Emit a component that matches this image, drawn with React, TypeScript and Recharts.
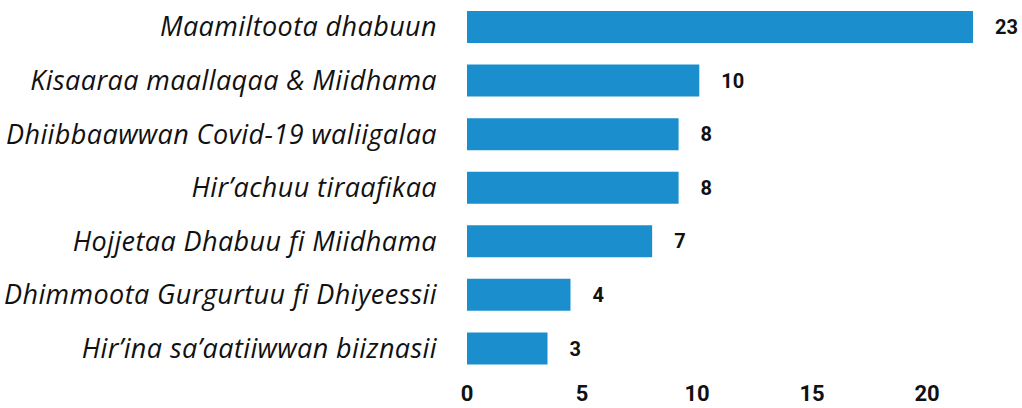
import { BarChart, Bar, XAxis, YAxis, LabelList } from "recharts";

const categories = [
  "Maamiltoota dhabuun",
  "Kisaaraa maallaqaa & Miidhama",
  "Dhiibbaawwan Covid-19 waliigalaa",
  "Hir’achuu tiraafikaa",
  "Hojjetaa Dhabuu fi Miidhama",
  "Dhimmoota Gurgurtuu fi Dhiyeessii",
  "Hir’ina sa’aatiiwwan biiznasii",
];

// bar lengths as drawn against the axis
const barValues = [22, 10.1, 9.2, 9.2, 8.05, 4.5, 3.5];

// numbers printed next to the bars
const valueLabels = [23, 10, 8, 8, 7, 4, 3];

const xTicks = [0, 5, 10, 15, 20];

const data = categories.map((name, i) => ({
  name,
  value: barValues[i],
  label: valueLabels[i],
}));

export default function App() {
  return (
    <div style={{ position: "absolute", top: 0, left: 0, background: "#fff" }}>
      <BarChart
        width={1022}
        height={408}
        data={data}
        layout="vertical"
        margin={{ top: 0, right: 49, bottom: 0, left: 0 }}
        barCategoryGap={0}
      >
        <XAxis
          type="number"
          domain={[0, 22]}
          ticks={xTicks}
          axisLine={false}
          tickLine={false}
          tickSize={0}
          tickMargin={10}
          height={33}
          allowDataOverflow
          tick={{
            fill: "#111",
            fontSize: 22,
            fontWeight: 700,
            fontFamily: "Roboto, sans-serif",
          }}
        />
        <YAxis
          type="category"
          dataKey="name"
          width={467}
          axisLine={false}
          tickLine={false}
          tickSize={0}
          tickMargin={30}
          interval={0}
          tick={{
            fill: "#111",
            fontSize: 27,
            fontStyle: "italic",
            fontWeight: 500,
            letterSpacing: 0.4,
            fontFamily: "'Open Sans', sans-serif",
          }}
        />
        <Bar dataKey="value" fill="#1b8fce" barSize={32} isAnimationActive={false}>
          <LabelList
            dataKey="label"
            position="right"
            offset={22}
            fill="#111"
            fontSize={20}
            fontWeight={700}
            fontFamily="Roboto, sans-serif"
          />
        </Bar>
      </BarChart>
    </div>
  );
}
